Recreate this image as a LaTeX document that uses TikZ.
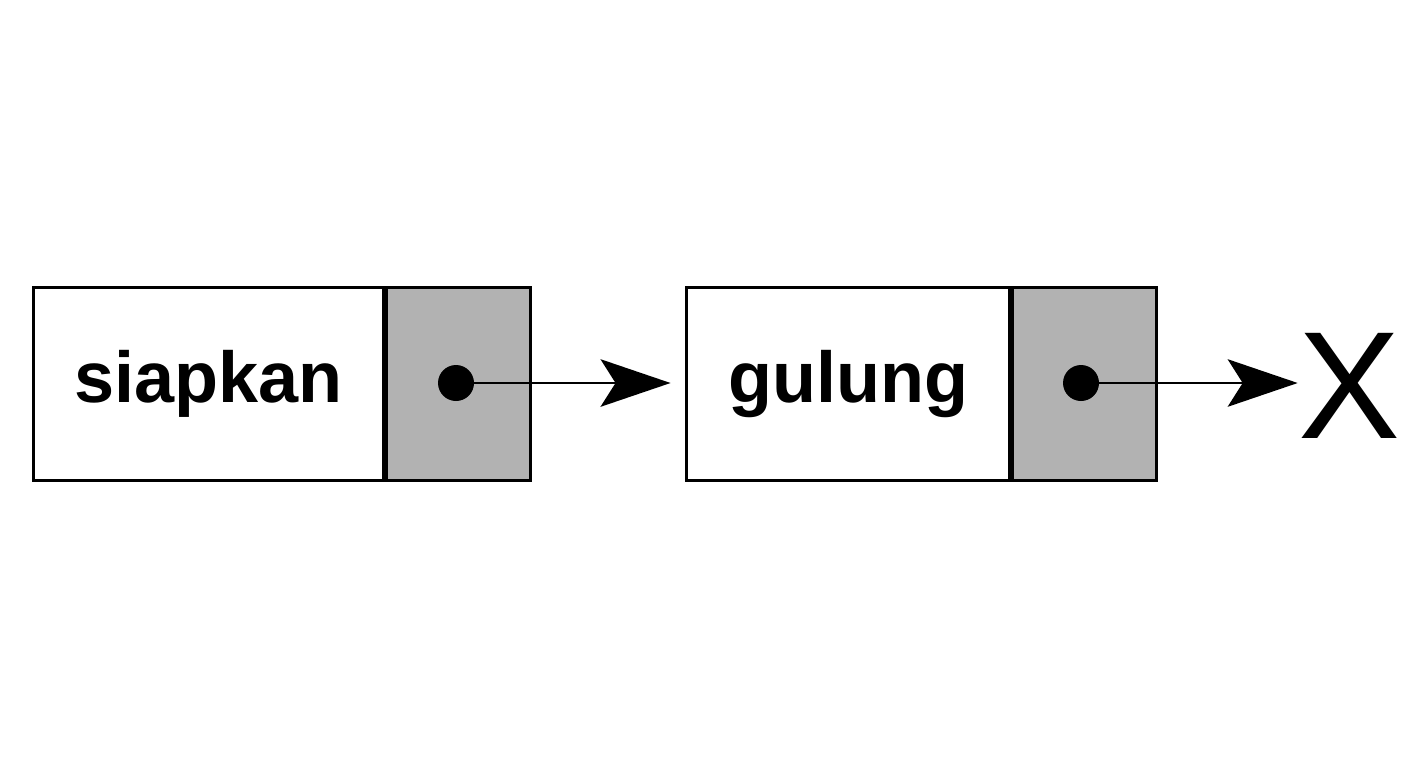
\documentclass[tikz,border=0pt]{standalone}
\usepackage{fontspec}
\setmainfont{Liberation Sans}
\usetikzlibrary{arrows.meta, positioning}

\begin{document}
\begin{tikzpicture}[
  x=0.02cm, y=-0.02cm,
  data/.style={draw, line width=1.7pt, minimum width=7cm, minimum height=3.88cm, inner sep=0pt, font=\fontsize{41}{41}\selectfont\bfseries},
  link/.style={draw, fill=black!30, line width=1.7pt, minimum width=2.88cm, minimum height=3.88cm, inner sep=0pt},
  pointer/.style={line width=1.3pt, shorten >=0.28cm, -{Stealth[length=1.4cm, width=0.95cm, inset=0.3cm]}},
  dot/.style={circle, fill=black, minimum size=0.72cm, inner sep=0pt},
]
\useasboundingbox[fill=white] (0,0) rectangle (1408,768);
%nodes
\node[data] (siapkan) at (208.5,384) {siapkan};
\node[link, right=0pt of siapkan] (siapkanNext) {};
\node[dot] (siapkanDot) at (456,383) {};
\node[data, minimum width=6.48cm] (gulung) at (848,384) {gulung};
\node[link, minimum width=2.88cm, right=0pt of gulung] (gulungNext) {};
\node[dot] (gulungDot) at (1081,383) {};
\node[font=\fontsize{87}{87}\selectfont, inner sep=0pt] (nil) at (1349,386) {X};
%pointers
\draw[pointer] (siapkanDot.center) -- (siapkanDot.center -| gulung.west);
\draw[pointer, shorten >=0pt] (gulungDot.center) -- (gulungDot.center -| nil.west);
\end{tikzpicture}
\end{document}
